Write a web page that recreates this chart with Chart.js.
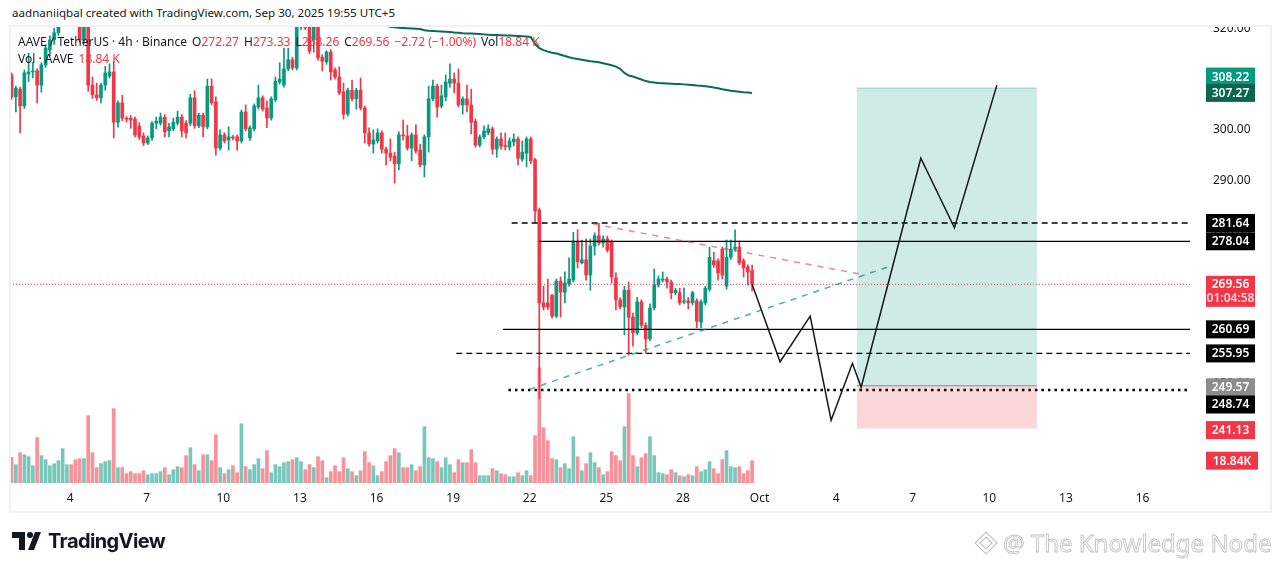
<!DOCTYPE html>
<html>
<head>
<meta charset="utf-8">
<script src="https://cdn.jsdelivr.net/npm/chart.js@4.4.1/dist/chart.umd.min.js"></script>
<style>
  html, body { margin: 0; padding: 0; background: #fff; }
  #wrap { position: relative; width: 1281px; height: 571px; overflow: hidden; font-family: "Noto Sans", sans-serif; color: #131722; }
  #chart { position: absolute; left: 0; top: 0; }
  #mask { position: absolute; left: 0; top: 0; width: 1281px; height: 25px; background: #fff; }
  #frame { position: absolute; left: 9px; top: 25px; width: 1259px; height: 484px; border: 2px solid #f0f1f3; pointer-events: none; }
  #credit { position: absolute; left: 12px; top: 5px; font-size: 11.6px; white-space: nowrap; }
  .legend { position: absolute; left: 18px; font-size: 12px; white-space: nowrap; }
  .legend .r { color: #F23645; }
  .legend .g { margin-left: 5px; }
  #legend1 { top: 33px; }
  #legend2 { top: 50px; }
  #brand { position: absolute; left: 12px; top: 529px; display: flex; align-items: center; }
  #brand span { font-family: Inter, sans-serif; font-weight: 700; font-size: 20px; letter-spacing: -0.6px; margin-left: 7px; color: #131722; }
  #mark { position: absolute; left: 973px; top: 526px; display: flex; align-items: center; }
  #mark span { font-size: 24px; color: #fff; -webkit-text-stroke: 0.8px #bdbdbd; margin-left: 4px; }
</style>
</head>
<body>
<div id="wrap">
  <canvas id="chart" width="1281" height="571"></canvas>
  <div id="mask"></div>
  <div id="frame"></div>
  <div id="credit">aadnaniiqbal created with TradingView.com, Sep 30, 2025 19:55 UTC+5</div>
  <div class="legend" id="legend1">AAVE / TetherUS · 4h · Binance<span class="g">O</span><span class="r">272.27</span><span class="g">H</span><span class="r">273.33</span><span class="g">L</span><span class="r">268.26</span><span class="g">C</span><span class="r">269.56</span><span class="g r">−2.72 (−1.00%)</span><span class="g">Vol</span><span class="r">18.84 K</span></div>
  <div class="legend" id="legend2">Vol · AAVE<span class="g r">18.84 K</span></div>
  <div id="brand">
    <svg width="29" height="18" viewBox="0 0 29 18">
      <rect x="0" y="0" width="13" height="6" fill="#131722"/>
      <rect x="7" y="0" width="6" height="18" fill="#131722"/>
      <circle cx="18" cy="3" r="3" fill="#131722"/>
      <polygon points="23,0 29,0 22,18 16,18" fill="#131722"/>
    </svg>
    <span>TradingView</span>
  </div>
  <div id="mark">
    <svg width="26" height="26" viewBox="0 0 26 26">
      <polygon points="13,2 24,13 13,24 2,13" fill="none" stroke="#c4c4c4" stroke-width="1.2"/>
      <polygon points="13,7 19,13 13,19 7,13" fill="none" stroke="#c4c4c4" stroke-width="1.2"/>
    </svg>
    <span>@ The Knowledge Node</span>
  </div>
</div>
<script>
// AAVE/USDT 4h candles, Sep 1 17:00 .. Sep 30 17:00 (UTC+5)
const candleOpen = [
  310.8, 306.5, 308.0, 304.7, 311.0, 311.4, 311.6, 308.8, 312.8, 315.7,
  317.7, 319.1, 322.4, 325.0, 327.1, 325.2, 323.0, 317.7, 322.5, 308.8,
  306.9, 306.3, 308.8, 310.6, 311.4, 301.5, 305.3, 302.3, 302.3, 302.1,
  300.7, 298.8, 297.4, 298.4, 301.3, 301.3, 302.5, 299.8, 300.2, 301.3,
  302.5, 301.3, 301.3, 306.3, 300.8, 302.9, 300.6, 308.6, 305.5, 296.4,
  299.0, 298.0, 298.6, 298.6, 297.8, 303.5, 298.4, 300.2, 304.5, 306.3,
  304.3, 302.3, 305.9, 309.4, 308.8, 312.0, 313.8, 312.2, 320.3, 324.5,
  320.8, 317.7, 320.3, 314.3, 313.4, 315.3, 311.8, 310.4, 307.5, 303.1,
  307.8, 306.1, 307.8, 304.3, 299.4, 297.2, 297.8, 299.4, 296.2, 295.4,
  294.8, 293.3, 299.0, 298.8, 296.4, 299.0, 296.0, 293.1, 298.6, 306.1,
  308.6, 304.7, 306.5, 309.2, 310.0, 309.2, 304.9, 306.1, 304.9, 301.7,
  297.0, 298.6, 299.4, 300.2, 296.2, 298.2, 296.8, 296.6, 297.6, 298.2,
  294.2, 295.4, 298.2, 294.1, 284.2, 265.9, 265.9, 267.4, 263.3, 270.2,
  268.0, 269.6, 270.4, 277.9, 273.8, 274.4, 271.4, 277.1, 279.1, 277.7,
  278.5, 277.9, 270.8, 266.5, 265.1, 268.4, 263.1, 260.0, 266.1, 261.5,
  258.8, 264.9, 269.4, 270.4, 270.6, 270.0, 267.9, 267.9, 266.1, 266.3,
  265.9, 266.3, 262.1, 265.9, 268.6, 274.2, 274.2, 276.5, 269.2, 274.9,
  276.5, 276.9, 274.2, 273.0, 272.27
];
const candleHigh = [
  311.2, 308.6, 308.4, 311.8, 315.1, 313.3, 312.0, 313.2, 316.8, 318.5,
  320.0, 322.0, 326.2, 328.0, 328.4, 326.0, 324.0, 323.5, 323.2, 310.4,
  309.2, 309.2, 312.5, 313.0, 313.4, 305.7, 306.8, 302.6, 302.8, 302.5,
  301.4, 299.4, 298.8, 301.6, 302.5, 303.3, 303.0, 301.3, 302.3, 303.7,
  303.0, 301.8, 307.0, 307.7, 303.3, 303.3, 310.0, 310.0, 306.5, 300.0,
  299.4, 300.6, 298.9, 299.0, 303.9, 304.9, 300.8, 305.1, 308.8, 306.7,
  305.7, 306.5, 310.4, 313.2, 316.1, 316.1, 314.3, 321.5, 326.0, 325.5,
  321.6, 321.8, 321.0, 314.8, 315.6, 315.8, 312.2, 312.4, 309.2, 308.2,
  309.8, 308.2, 310.2, 304.7, 300.4, 300.0, 300.2, 299.8, 296.6, 298.2,
  295.6, 299.6, 301.9, 300.9, 299.4, 301.0, 297.2, 299.0, 308.6, 309.8,
  309.0, 308.8, 310.8, 313.0, 311.2, 312.0, 306.5, 308.8, 308.0, 302.1,
  299.0, 300.8, 301.0, 300.6, 298.6, 299.4, 299.4, 298.4, 299.2, 298.6,
  297.8, 298.6, 298.6, 294.4, 284.6, 269.2, 270.6, 267.6, 270.6, 271.0,
  272.0, 274.8, 279.8, 280.3, 278.3, 278.5, 278.5, 279.7, 281.6, 279.1,
  279.1, 278.3, 271.8, 266.9, 269.2, 270.0, 263.9, 267.0, 266.5, 262.0,
  265.7, 272.6, 271.2, 272.0, 271.0, 270.4, 268.8, 268.8, 268.8, 267.0,
  268.2, 266.7, 266.5, 269.2, 276.9, 275.9, 274.6, 276.9, 278.3, 278.3,
  280.3, 278.1, 274.6, 273.4, 273.33
];
const candleLow = [
  306.0, 303.5, 299.4, 304.2, 309.5, 310.2, 305.3, 307.4, 312.3, 314.6,
  316.8, 318.6, 321.9, 324.5, 324.6, 322.2, 317.2, 317.0, 307.6, 306.2,
  305.8, 305.3, 307.8, 310.2, 298.4, 300.5, 301.8, 301.5, 300.3, 298.6,
  298.1, 296.9, 297.1, 297.9, 300.2, 300.9, 298.6, 298.6, 299.8, 300.9,
  298.6, 298.4, 300.8, 300.3, 300.4, 298.6, 300.2, 304.9, 295.0, 296.0,
  297.4, 296.0, 298.0, 296.0, 297.4, 299.8, 297.9, 299.8, 304.1, 303.7,
  300.4, 301.9, 305.5, 309.0, 308.4, 311.6, 311.8, 311.8, 319.8, 319.7,
  315.0, 315.3, 313.7, 311.6, 312.9, 309.8, 310.0, 306.9, 302.1, 302.7,
  305.7, 304.1, 303.9, 297.4, 296.8, 295.4, 297.4, 295.4, 293.1, 293.9,
  289.5, 292.1, 298.0, 296.0, 293.9, 295.4, 292.7, 290.7, 295.6, 305.7,
  302.5, 304.3, 305.7, 308.4, 307.3, 304.5, 303.1, 303.5, 299.2, 296.6,
  296.6, 298.2, 299.0, 295.2, 294.6, 296.2, 296.0, 296.0, 296.8, 293.1,
  293.8, 292.7, 293.3, 281.8, 247.0, 264.5, 264.6, 262.9, 263.0, 263.1,
  265.9, 269.2, 270.0, 272.8, 273.6, 270.4, 268.4, 275.3, 277.3, 276.9,
  275.9, 269.8, 264.5, 264.7, 259.6, 255.6, 257.4, 259.6, 261.0, 256.0,
  258.4, 264.5, 269.0, 270.0, 268.8, 266.7, 267.5, 265.5, 265.7, 264.7,
  265.5, 261.0, 261.0, 265.5, 268.2, 272.9, 270.4, 270.6, 268.6, 274.5,
  276.1, 273.4, 271.0, 269.4, 268.26
];
const candleClose = [
  306.5, 308.2, 304.7, 311.2, 311.4, 311.6, 308.8, 312.8, 316.1, 317.7,
  319.1, 320.6, 325.0, 327.1, 325.2, 323.0, 317.7, 322.5, 308.8, 306.9,
  306.3, 308.8, 311.2, 311.4, 301.5, 305.3, 302.3, 302.1, 301.9, 299.0,
  298.6, 297.4, 298.4, 301.3, 301.7, 302.5, 299.6, 300.6, 301.5, 302.5,
  299.8, 299.4, 306.3, 300.8, 302.9, 300.6, 308.6, 305.3, 296.4, 299.0,
  297.8, 298.6, 298.4, 297.8, 303.5, 300.2, 300.4, 304.7, 306.3, 304.1,
  302.3, 306.1, 309.6, 310.0, 312.0, 313.8, 312.2, 320.3, 324.5, 320.1,
  315.5, 320.6, 314.2, 313.5, 315.3, 311.4, 310.4, 307.3, 303.1, 307.8,
  306.1, 307.8, 304.3, 299.4, 297.2, 298.0, 299.4, 296.2, 295.4, 294.6,
  293.3, 299.0, 298.8, 296.4, 299.0, 295.8, 293.1, 298.6, 306.1, 308.6,
  304.5, 306.7, 309.4, 310.0, 309.2, 304.9, 306.1, 304.9, 301.5, 297.0,
  298.6, 299.8, 300.2, 296.2, 298.2, 296.8, 296.7, 297.8, 298.2, 294.4,
  295.6, 298.2, 293.9, 284.0, 265.9, 265.1, 265.1, 263.3, 270.2, 268.0,
  269.8, 270.6, 277.9, 274.0, 274.4, 271.4, 277.1, 279.1, 277.7, 278.5,
  276.3, 271.0, 266.5, 265.1, 268.4, 263.1, 260.0, 266.1, 261.5, 258.8,
  264.9, 269.4, 270.6, 270.6, 270.0, 267.9, 268.4, 265.9, 266.3, 265.9,
  267.9, 262.3, 266.1, 268.8, 274.9, 273.4, 271.8, 271.4, 274.9, 276.5,
  276.9, 273.8, 272.8, 272.0, 269.56
];
// volume in thousands of AAVE
const candleVolK = [
  21.7, 15.5, 25.6, 23.9, 22.2, 14.6, 38.3, 23.1, 19.7, 14.6,
  16.3, 18.9, 29.0, 15.5, 15.5, 19.7, 20.6, 20.6, 56.9, 25.6,
  13.0, 16.3, 18.0, 18.9, 62.8, 13.0, 13.0, 7.9, 9.6, 7.9,
  7.9, 10.4, 7.0, 7.9, 7.9, 9.6, 13.0, 7.0, 11.3, 13.8,
  13.0, 23.1, 29.8, 15.5, 10.4, 23.9, 23.9, 18.9, 40.8, 13.0,
  7.9, 11.3, 14.6, 8.7, 50.1, 13.8, 11.3, 15.5, 20.6, 12.1,
  27.3, 8.7, 15.5, 13.8, 17.2, 18.0, 19.7, 21.4, 18.0, 11.3,
  15.5, 13.0, 22.2, 18.9, 4.5, 9.6, 14.6, 9.6, 21.4, 12.1,
  9.6, 6.2, 10.4, 26.5, 17.2, 14.6, 6.2, 9.6, 18.0, 23.1,
  29.0, 25.6, 13.0, 13.0, 15.5, 10.4, 13.8, 47.6, 21.4, 20.6,
  18.0, 13.0, 21.4, 15.5, 8.7, 19.7, 17.2, 17.2, 28.2, 17.2,
  6.2, 6.2, 6.2, 12.1, 10.4, 7.9, 7.0, 5.3, 5.3, 8.7,
  6.2, 10.4, 6.2, 40.0, 97.1, 46.7, 35.8, 20.6, 19.7, 13.0,
  16.3, 12.1, 39.1, 22.2, 10.4, 16.3, 25.6, 17.2, 13.0, 7.0,
  9.6, 26.5, 23.1, 18.9, 47.6, 75.5, 23.1, 13.8, 21.4, 24.8,
  39.1, 23.1, 8.7, 7.9, 7.0, 11.3, 8.7, 6.2, 5.3, 7.0,
  6.2, 13.8, 9.6, 11.3, 18.0, 12.1, 7.9, 19.7, 27.3, 13.8,
  13.0, 13.8, 7.9, 10.4, 18.84
];
// moving average, starts at candle index 84 (above the visible range before that)
const maStartIndex = 84;
const maValues = [
  320.9, 320.8, 320.7, 320.6, 320.5, 320.3, 320.2, 320.1, 320.05, 320.0,
  319.95, 319.9, 319.85, 319.6, 319.5, 319.45, 319.4, 319.35, 319.3, 319.25,
  319.15, 319.1, 319.0, 318.98, 318.95, 318.9, 318.85, 318.8, 318.75, 318.7,
  318.68, 318.65, 318.6, 318.58, 318.55, 318.5, 318.45, 318.4, 318.3, 316.9,
  316.1, 315.7, 315.4, 315.2, 315.05, 314.8, 314.55, 314.3, 314.1, 313.95,
  313.8, 313.65, 313.5, 313.42, 313.3, 313.1, 312.9, 312.7, 312.45, 312.0,
  311.2, 310.7, 310.5, 310.2, 309.9, 309.6, 309.4, 309.3, 309.2, 309.15,
  309.1, 309.05, 309.0, 309.0, 308.95, 308.9, 308.85, 308.75, 308.7, 308.6,
  308.5, 308.35, 308.2, 308.0, 307.85, 307.7, 307.6, 307.5, 307.4, 307.33,
  307.27
];

// time axis: hours since Sep 1 00:00 (UTC+5)
const firstCandleHour = 17;
const candleStepHours = 4;
const viewHours = [15.5, 1124.6];
const dayTickHours = [72, 144, 216, 288, 360, 432, 504, 576, 648, 720, 792, 864, 936, 1008, 1080];
const dayTickLabels = ['4', '7', '10', '13', '16', '19', '22', '25', '28', 'Oct', '4', '7', '10', '13', '16'];
const priceRange = [230.42, 320.45];
const priceTicks = [240, 250, 260, 270, 280, 290, 300, 310, 320];
const volMaxK = 386;

// drawings
const levelPrices = [281.64, 278.04, 260.69, 255.95, 248.74];
const levelStartHours = [487, 513, 479, 435, 484];
const levelStyles = ['dashed', 'solid', 'solid', 'dashed', 'dotted'];
const lastPrice = 269.56;
const redTrendHours = [563.8, 819.3];
const redTrendPrices = [281.44, 271.39];
const greenTrendHours = [503.7, 839.7];
const greenTrendPrices = [248.87, 272.91];
const pathHours = [713, 739.3, 767.6, 787.3, 807.3, 815.5, 871.6, 903.2, 943.1];
const pathPrices = [269.56, 254.3, 263.3, 242.8, 254.0, 249.3, 294.4, 280.7, 308.8];
const positionHours = [811.5, 980.7];
const positionTarget = 308.22;
const positionEntry = 249.57;
const positionStop = 241.13;

const UP = '#089981', DOWN = '#F23645';
const VOL_UP = 'rgba(8,153,129,0.55)', VOL_DOWN = 'rgba(242,54,69,0.55)';

const priceTags = [
  { text: '308.22', value: 308.22, bg: '#089981', shift: -11.5 },
  { text: '307.27', value: 307.27, bg: '#0b6650' },
  { text: '281.64', value: 281.64, bg: '#000000' },
  { text: '278.04', value: 278.04, bg: '#000000' },
  { text: '269.56', sub: '01:04:58', value: 269.56, bg: '#F23645' },
  { text: '260.69', value: 260.69, bg: '#000000' },
  { text: '255.95', value: 255.95, bg: '#000000' },
  { text: '249.57', value: 249.57, bg: '#8c8c8c', shift: 1.5 },
  { text: '248.74', value: 248.74, bg: '#000000', shift: 14.5 },
  { text: '241.13', value: 241.13, bg: '#F23645', shift: 1.5 }
];

const hours = candleOpen.map((_, i) => firstCandleHour + i * candleStepHours);
const candleColors = candleClose.map((c, i) => (c >= candleOpen[i] ? UP : DOWN));
const volColors = candleClose.map((c, i) => (c >= candleOpen[i] ? VOL_UP : VOL_DOWN));

const positionBox = {
  id: 'positionBox',
  beforeDatasetsDraw(chart) {
    const { ctx, scales } = chart;
    const x0 = scales.x.getPixelForValue(positionHours[0]);
    const x1 = scales.x.getPixelForValue(positionHours[1]);
    const yT = scales.y.getPixelForValue(positionTarget);
    const yE = scales.y.getPixelForValue(positionEntry);
    const yS = scales.y.getPixelForValue(positionStop);
    ctx.save();
    ctx.fillStyle = 'rgba(8,153,129,0.2)';
    ctx.fillRect(x0, yT, x1 - x0, yE - yT);
    ctx.fillStyle = 'rgba(242,54,69,0.2)';
    ctx.fillRect(x0, yE, x1 - x0, yS - yE);
    ctx.strokeStyle = 'rgba(8,153,129,0.35)';
    ctx.lineWidth = 1;
    ctx.beginPath(); ctx.moveTo(x0, yT); ctx.lineTo(x1, yT); ctx.stroke();
    ctx.strokeStyle = '#8a8a8a';
    ctx.beginPath(); ctx.moveTo(x0, yE); ctx.lineTo(x1, yE); ctx.stroke();
    ctx.restore();
  }
};

const priceTagPlugin = {
  id: 'priceTags',
  afterDraw(chart) {
    const { ctx, chartArea, scales } = chart;
    const left = chartArea.right + 16, w = 49, h = 18;
    ctx.save();
    ctx.font = '600 12px "Noto Sans"';
    ctx.textAlign = 'center';
    ctx.textBaseline = 'middle';
    priceTags.forEach(t => {
      const cy = scales.y.getPixelForValue(t.value) + (t.shift || 0);
      if (t.sub) {
        const top = cy - 8.5;
        ctx.fillStyle = t.bg;
        ctx.fillRect(left, top, w, 31);
        ctx.fillStyle = '#fff';
        ctx.fillText(t.text, left + w / 2, top + 9);
        ctx.fillStyle = 'rgba(255,255,255,0.8)';
        ctx.fillText(t.sub, left + w / 2, top + 22.5);
      } else {
        ctx.fillStyle = t.bg;
        ctx.fillRect(left, cy - h / 2, w, h);
        ctx.fillStyle = '#fff';
        ctx.fillText(t.text, left + w / 2, cy + 0.5);
      }
    });
    // last volume tag
    const lastVol = candleVolK[candleVolK.length - 1];
    const vy = scales.yVol.getPixelForValue(lastVol);
    ctx.fillStyle = DOWN;
    ctx.fillRect(left, vy - h / 2, 52, h);
    ctx.fillStyle = '#fff';
    ctx.fillText(lastVol.toFixed(2) + 'K', left + 26, vy + 0.5);
    ctx.restore();
  }
};

const lineDs = (pts, color, width, dash, order) => ({
  type: 'line',
  data: pts,
  borderColor: color,
  borderWidth: width,
  borderDash: dash,
  pointRadius: 0,
  tension: 0,
  fill: false,
  order: order
});

const dashFor = { dashed: [6, 4], solid: [], dotted: [2.5, 4] };
const widthFor = { dashed: 1.3, solid: 1.2, dotted: 2.5 };

const datasets = [
  {
    type: 'bar', yAxisID: 'yVol',
    data: candleVolK.map((v, i) => ({ x: hours[i], y: v })),
    backgroundColor: volColors, barThickness: 3, grouped: false, order: 20
  },
  {
    type: 'bar',
    data: hours.map((h, i) => ({ x: h, y: [candleLow[i], candleHigh[i]] })),
    backgroundColor: candleColors, barThickness: 1, grouped: false, order: 12
  },
  {
    type: 'bar',
    data: hours.map((h, i) => ({ x: h, y: [candleOpen[i], candleClose[i]] })),
    backgroundColor: candleColors, barThickness: 3, minBarLength: 1, grouped: false, order: 11
  },
  lineDs(maValues.map((v, k) => ({ x: hours[maStartIndex + k], y: v })), '#0d6a53', 2, [], 5),
  lineDs([{ x: viewHours[0], y: lastPrice }, { x: viewHours[1], y: lastPrice }], DOWN, 1, [1, 2], 6)
];
levelPrices.forEach((p, k) => {
  const st = levelStyles[k];
  datasets.push(lineDs([{ x: levelStartHours[k], y: p }, { x: viewHours[1], y: p }], '#000000', widthFor[st], dashFor[st], 4));
});
datasets.push(lineDs(redTrendHours.map((h, k) => ({ x: h, y: redTrendPrices[k] })), 'rgba(242,54,69,0.6)', 1.5, [6, 6], 3));
datasets.push(lineDs(greenTrendHours.map((h, k) => ({ x: h, y: greenTrendPrices[k] })), 'rgba(8,153,129,0.75)', 1.5, [6, 6], 3));
datasets.push(lineDs(pathHours.map((h, k) => ({ x: h, y: pathPrices[k] })), '#131722', 1.5, [], 2));

new Chart(document.getElementById('chart'), {
  type: 'bar',
  data: { datasets: datasets },
  options: {
    responsive: false,
    animation: false,
    events: [],
    layout: { padding: { left: 10, top: 26, right: 11, bottom: 61 } },
    plugins: { legend: { display: false }, tooltip: { enabled: false } },
    scales: {
      x: {
        type: 'linear',
        min: viewHours[0], max: viewHours[1],
        offset: false,
        grid: { display: false, drawTicks: false },
        border: { display: false },
        afterBuildTicks: s => { s.ticks = dayTickHours.map(v => ({ value: v })); },
        afterFit: s => { s.height = 27; },
        ticks: {
          autoSkip: false, maxRotation: 0, padding: 8,
          color: '#131722', font: { family: 'Noto Sans', size: 12 },
          callback: (v) => dayTickLabels[dayTickHours.indexOf(v)]
        }
      },
      y: {
        position: 'right',
        min: priceRange[0], max: priceRange[1],
        // tick marks are hidden; their length only pushes the labels to the right
        grid: { display: false, drawTicks: true, tickLength: 23 },
        border: { display: false },
        afterBuildTicks: s => { s.ticks = priceTicks.map(v => ({ value: v })); },
        afterFit: s => { s.width = 80; },
        ticks: {
          crossAlign: 'near', padding: 0,
          color: '#131722', font: { family: 'Noto Sans', size: 12 },
          callback: v => v.toFixed(2)
        }
      },
      yVol: {
        display: false,
        min: 0, max: volMaxK
      }
    }
  },
  plugins: [positionBox, priceTagPlugin]
});
</script>
</body>
</html>
